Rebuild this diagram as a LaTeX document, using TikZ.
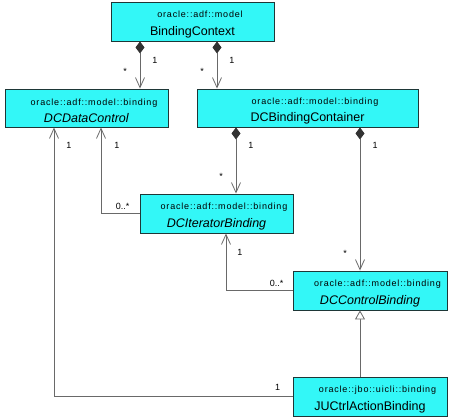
\documentclass[tikz,border=0pt]{standalone}
\usepackage{fontspec}
\setmainfont{Liberation Sans}
\usetikzlibrary{positioning, arrows.meta, calc}

\definecolor{clsfill}{RGB}{51,247,247}
\definecolor{clsline}{RGB}{30,55,55}
\definecolor{conline}{RGB}{105,105,105}
\definecolor{diafill}{RGB}{50,50,50}

% paquete (estereotipo) en letra pequeña y espaciada
\newcommand{\pkgname}[1]{\rule{0pt}{12.5pt}\hspace*{15pt}{\fontsize{9}{10}\selectfont\addfontfeature{LetterSpace=9}#1}}

\begin{document}
\begin{tikzpicture}[x=1pt, y=-1pt,
		clase/.style={draw=clsline, fill=clsfill, line width=0.9pt, align=center, inner sep=1pt,
			minimum height=39pt, font=\fontsize{12.5}{17.5}\selectfont},
		comp/.style={draw=conline, line width=0.8pt,
			{Diamond[length=12pt, width=9pt, fill=diafill, color=diafill]}-{Straight Barb[length=10pt, width=9pt]}},
		asoc/.style={draw=conline, line width=0.8pt, -{Straight Barb[length=10pt, width=9pt]}},
		gen/.style={draw=conline, line width=0.8pt, -{Triangle[open, length=9pt, width=10pt, fill=white]}},
		mult/.style={font=\fontsize{9}{10}\selectfont, inner sep=0pt}]
	
	\useasboundingbox (0,0) rectangle (450,417);
	
	% --- 1. CLASES ---
	\node[clase, minimum width=163pt] (ctx) at (192.5, 21.5)
		{\pkgname{oracle::adf::model}\\BindingContext};
	\node[clase, minimum width=163pt, minimum height=38pt] (dc) at (86.5, 108)
		{\pkgname{oracle::adf::model::binding}\\\textit{DCDataControl}};
	\node[clase, minimum width=221pt, minimum height=38pt] (bc) at (307.5, 108)
		{\pkgname{oracle::adf::model::binding}\\DCBindingContainer};
	\node[clase, minimum width=153pt] (it) at (216.5, 213.5)
		{\pkgname{oracle::adf::model::binding}\\\textit{DCIteratorBinding}};
	\node[clase, minimum width=154pt] (cb) at (370, 290.5)
		{\pkgname{oracle::adf::model::binding}\\\textit{DCControlBinding}};
	\node[clase, minimum width=154pt] (ju) at (370, 396.5)
		{\pkgname{oracle::jbo::uicli::binding}\\JUCtrlActionBinding};
	
	% --- 2. COMPOSICIONES ---
	\draw[comp] ([xshift=-52.5pt]ctx.south) -- ([xshift=-52.5pt]ctx.south |- dc.north)
		node[mult, pos=0, xshift=15pt, yshift=-19pt] {1}
		node[mult, pos=1, xshift=-15pt, yshift=17pt] {*};
	\draw[comp] ([xshift=24.5pt]ctx.south) -- ([xshift=24.5pt]ctx.south |- bc.north)
		node[mult, pos=0, xshift=15pt, yshift=-19pt] {1}
		node[mult, pos=1, xshift=-15pt, yshift=17pt] {*};
	\draw[comp] ([xshift=-71.5pt]bc.south) -- ([xshift=-71.5pt]bc.south |- it.north)
		node[mult, pos=0, xshift=15pt, yshift=-18pt] {1}
		node[mult, pos=1, xshift=-15pt, yshift=17pt] {*};
	\draw[comp] ([xshift=52.5pt]bc.south) -- ([xshift=52.5pt]bc.south |- cb.north)
		node[mult, pos=0, xshift=15pt, yshift=-18pt] {1}
		node[mult, pos=1, xshift=-15pt, yshift=17pt] {*};
	
	% --- 3. ASOCIACIONES ---
	\draw[asoc] (it.west) -| ([xshift=14.5pt]dc.south)
		node[mult, pos=0, xshift=-17pt, yshift=7pt] {0..*}
		node[mult, pos=1, xshift=16pt, yshift=-18pt] {1};
	\draw[asoc] (cb.west) -| ([xshift=9.5pt]it.south)
		node[mult, pos=0, xshift=-16pt, yshift=7pt] {0..*}
		node[mult, pos=1, xshift=14pt, yshift=-19pt] {1};
	\draw[asoc] (ju.west) -| ([xshift=-32.5pt]dc.south)
		node[mult, pos=0, xshift=-15pt, yshift=9pt] {1}
		node[mult, pos=1, xshift=15pt, yshift=-18pt] {1};
	
	% --- 4. HERENCIA ---
	\draw[gen] ([xshift=-10pt]ju.north) -- ([xshift=-10pt]cb.south);
	
\end{tikzpicture}
\end{document}
